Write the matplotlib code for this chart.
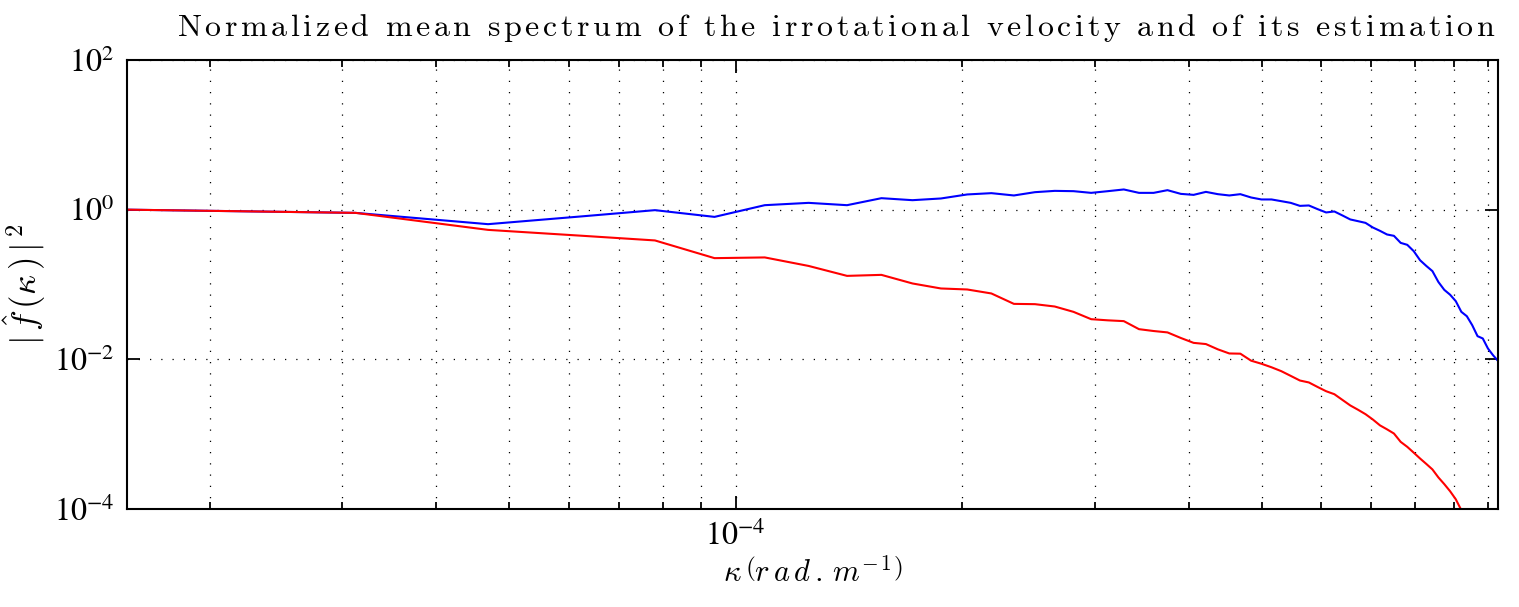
import matplotlib
matplotlib.use("Agg")
import matplotlib.pyplot as plt
from matplotlib.ticker import FixedLocator, NullLocator, NullFormatter

# wavenumber kappa (in units of 1e-5 rad/m)
kappa_e5 = [1.552, 3.124, 4.686, 6.248, 7.810, 9.372, 10.93, 12.50, 14.06, 15.62,
            17.18, 18.74, 20.31, 21.87, 23.43, 24.99, 26.55, 28.12, 29.68, 31.24,
            32.80, 34.36, 35.93, 37.49, 39.05, 40.61, 42.17, 43.74, 45.30, 46.86,
            48.42, 49.98, 51.55, 53.11, 54.67, 56.23, 57.79, 59.36, 60.92, 62.48,
            64.04, 65.60, 67.17, 68.73, 70.29, 71.85, 73.41, 74.98, 76.54, 78.10,
            79.66, 81.22, 82.79, 84.35, 85.91, 87.47, 89.03, 90.60, 92.16, 93.72,
            95.28, 96.84, 98.41, 99.97, 101.53, 103.09]

# irrotational velocity spectrum (blue)
spec_true = [1.0, 0.906, 0.640, 0.814, 0.985, 0.801, 1.148, 1.233, 1.148, 1.424,
             1.339, 1.411, 1.597, 1.662, 1.548, 1.713, 1.783, 1.767, 1.677, 1.767,
             1.862, 1.677, 1.677, 1.822, 1.626, 1.577, 1.729, 1.611, 1.548, 1.611,
             1.455, 1.369, 1.369, 1.299, 1.233, 1.124, 1.138, 1.016, 0.918, 0.946,
             0.837, 0.740, 0.702, 0.666, 0.578, 0.521, 0.466, 0.447, 0.360, 0.339,
             0.279, 0.211, 0.177, 0.151, 0.108, 0.0848, 0.0731, 0.0599, 0.0431, 0.0377,
             0.0286, 0.0204, 0.0190, 0.01397, 0.01137, 0.00954]

# estimated spectrum (red), leaves the axes near the end
spec_est = [1.0, 0.906, 0.537, 0.448, 0.388, 0.225, 0.230, 0.177, 0.1304, 0.1345,
            0.1032, 0.0885, 0.0858, 0.0759, 0.0551, 0.0546, 0.0508, 0.0431, 0.0344, 0.0332,
            0.0324, 0.0253, 0.0239, 0.0229, 0.0193, 0.0166, 0.0160, 0.0136, 0.01198, 0.0119,
            0.0096, 0.00873, 0.00783, 0.00695, 0.00601, 0.00521, 0.00491, 0.00427, 0.00375, 0.00342,
            0.00287, 0.00242, 0.00212, 0.00185, 0.00157, 0.00131, 0.00116, 0.00102, 0.000789, 0.000677,
            0.000566, 0.000473, 0.000400, 0.000338, 0.000264, 0.000215, 0.000173, 0.000135, 0.0000964, 0.000068]

kappa = [v * 1e-5 for v in kappa_e5]

x_major = [1e-4]
x_minor = [2e-5, 3e-5, 4e-5, 5e-5, 6e-5, 7e-5, 8e-5, 9e-5,
           2e-4, 3e-4, 4e-4, 5e-4, 6e-4, 7e-4, 8e-4, 9e-4, 1e-3]
y_major = [1e-4, 1e-2, 1e0, 1e2]

plt.rcParams['mathtext.fontset'] = 'stix'
plt.rcParams['font.family'] = ['Liberation Serif', 'DejaVu Serif']

def spaced(s, gap=0.13):
    # letter-spaced roman text, like the LaTeX title
    body = (r'\hspace{%g}' % gap).join(r'\ ' if c == ' ' else c for c in s)
    return r'$\mathrm{' + body + '}$'

fig = plt.figure(figsize=(15.19, 6.07), dpi=100)
ax = fig.add_axes([127/1519, 1 - 509/607, (1498 - 127)/1519, (509 - 60)/607])

ax.plot(kappa, spec_true, color='#0000ff', lw=1.5)
ax.plot(kappa[:len(spec_est)], spec_est, color='#ff0000', lw=1.5)

ax.set_xscale('log')
ax.set_yscale('log')
ax.set_xlim(1.552e-5, 1.031e-3)
ax.set_ylim(1e-4, 1e2)

ax.xaxis.set_major_locator(FixedLocator(x_major))
ax.xaxis.set_minor_locator(FixedLocator(x_minor))
ax.xaxis.set_minor_formatter(NullFormatter())
ax.set_xticklabels([r'$10^{-4}$'])
ax.yaxis.set_major_locator(FixedLocator(y_major))
ax.yaxis.set_minor_locator(NullLocator())
ax.set_yticklabels([r'$10^{-4}$', r'$10^{-2}$', r'$10^{0}$', r'$10^{2}$'])

ax.tick_params(which='both', direction='in', top=True, right=True, labelsize=23, width=1.3)
ax.tick_params(which='major', length=9.5, pad=9)
ax.tick_params(which='minor', length=5)
for sp in ax.spines.values():
    sp.set_linewidth(1.5)

gridstyle = dict(color='black', lw=0.9, linestyle=(0, (1, 8)))
ax.grid(True, which='major', **gridstyle)
ax.grid(True, which='minor', axis='x', **gridstyle)

ax.set_xlabel(r'$\kappa\,\left(r\,a\,d\,.\,m^{-\,1}\right)$', fontsize=22,
              math_fontfamily='cm', labelpad=4)
ax.set_ylabel(r'$|\,\hat{f}\,(\kappa\,)\,|^{\,2}$', fontsize=25,
              math_fontfamily='cm', labelpad=4)

fig.text(836/1519, 1 - 28/607,
         spaced('Normalized mean spectrum of the irrotational velocity and of its estimation'),
         fontsize=23, math_fontfamily='cm', ha='center', va='center')

fig.savefig('out.png', dpi=100)
